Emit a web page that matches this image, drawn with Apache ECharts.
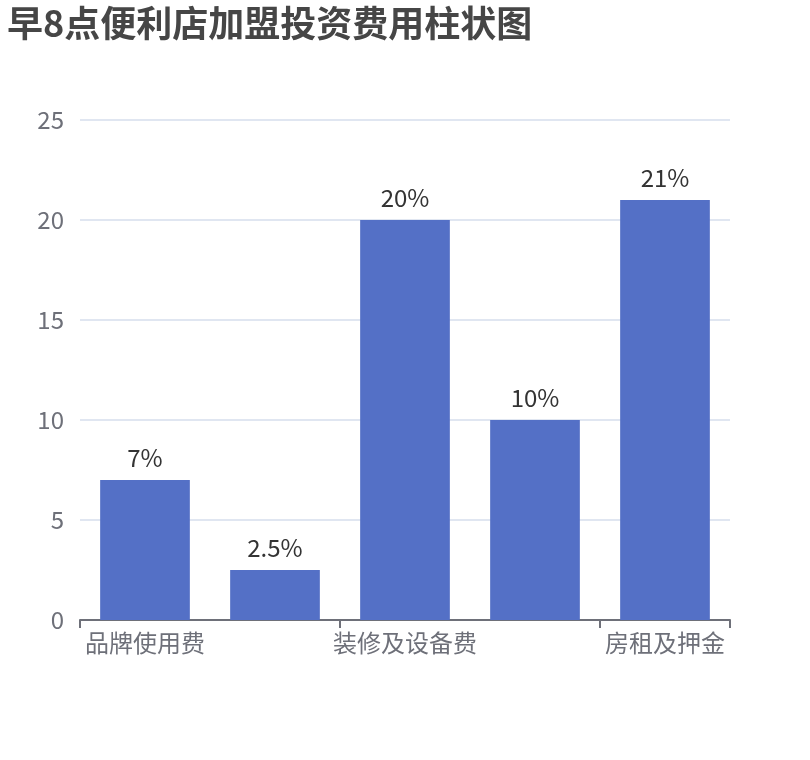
<!DOCTYPE html>
<html>
<head>
<meta charset="utf-8">
<script src="https://cdn.jsdelivr.net/npm/echarts@6/dist/echarts.min.js"></script>
<style>
  html, body { margin: 0; padding: 0; background: #fff; }
  #chart { width: 810px; height: 760px; }
</style>
</head>
<body>
<div id="chart"></div>
<script>
// 数据
var titleText = '早8点便利店加盟投资费用柱状图';
var categories = ['品牌使用费', '加盟保证金', '装修及设备费', '首批进货款', '房租及押金'];
var values = [7, 2.5, 20, 10, 21];
var valueLabels = ['7%', '2.5%', '20%', '10%', '21%'];
var yTicks = [0, 5, 10, 15, 20, 25];

var chartDom = document.getElementById('chart');
var myChart = echarts.init(chartDom);

var option = {
    textStyle: { fontFamily: '"Noto Sans CJK SC", "Noto Sans", sans-serif' },
    title: {
        text: titleText,
        left: 2,
        top: 0,
        textStyle: { fontSize: 36, fontWeight: 'bold', color: '#464646' }
    },
    grid: { left: 80, right: 80, top: 120, bottom: 140 },
    xAxis: {
        type: 'category',
        data: categories,
        axisLine: { lineStyle: { color: '#6E7079', width: 2 } },
        axisTick: { show: true, interval: 1, length: 8, lineStyle: { color: '#6E7079', width: 2 } },
        axisLabel: { interval: 1, fontSize: 24, color: '#6E7079', margin: 11 }
    },
    yAxis: {
        type: 'value',
        min: yTicks[0],
        max: yTicks[yTicks.length - 1],
        interval: yTicks[1] - yTicks[0],
        axisLabel: { fontSize: 24, color: '#6E7079', margin: 16 },
        splitLine: { lineStyle: { color: '#E0E6F1', width: 2 } }
    },
    series: [{
        type: 'bar',
        data: values,
        barWidth: '69%',
        itemStyle: { color: '#5470C6' },
        label: {
            show: true,
            position: 'top',
            fontSize: 24,
            color: '#333',
            distance: 10,
            formatter: function (p) { return valueLabels[p.dataIndex]; }
        }
    }]
};

myChart.setOption(option);
</script>
</body>
</html>
